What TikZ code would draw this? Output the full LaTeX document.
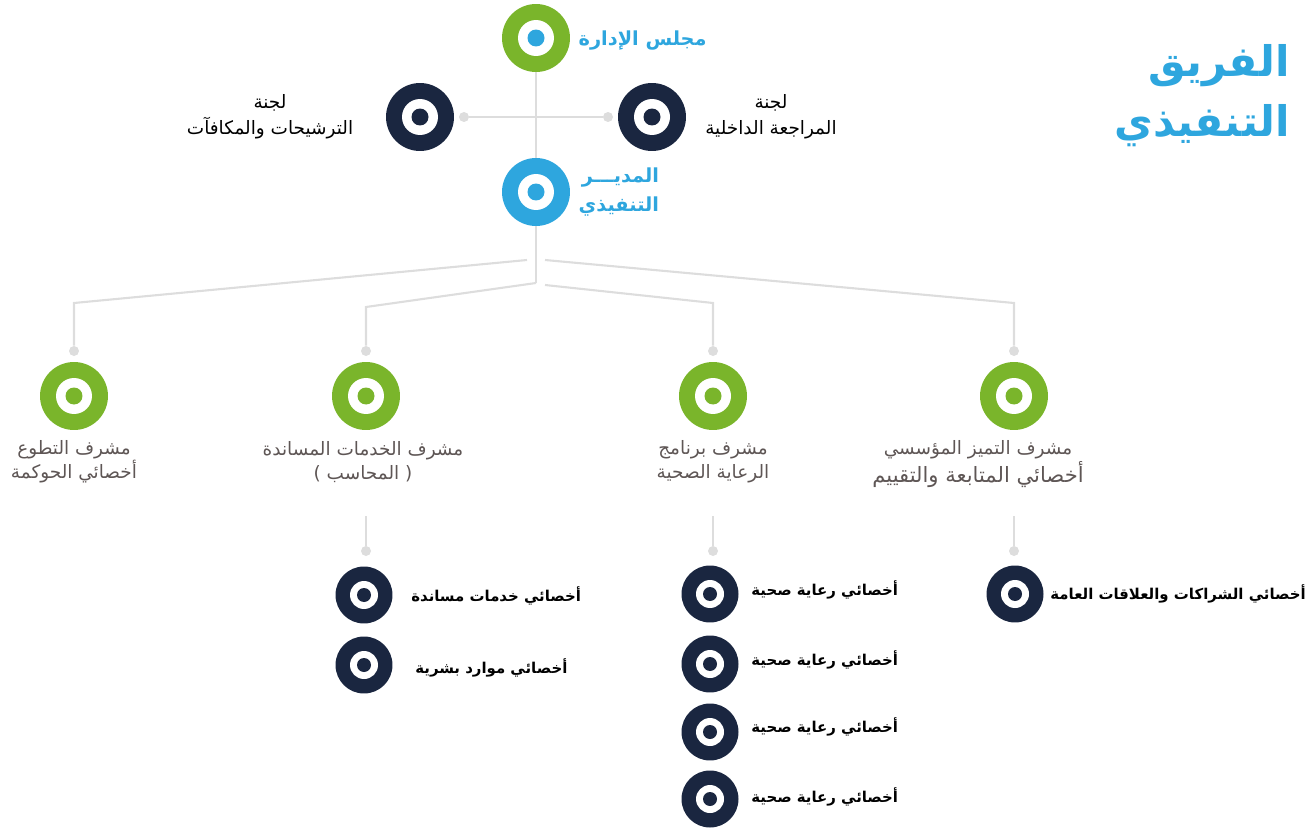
\documentclass[tikz,border=0pt]{standalone}
\usepackage{fontspec}
\usepackage{xcolor}
\usetikzlibrary{positioning}
\TeXXeTstate=1
\newfontfamily\arabicfont[Script=Arabic]{DejaVu Sans}
\newcommand{\rtl}[1]{\beginR #1\endR}

\definecolor{brandgreen}{HTML}{7AB52B}
\definecolor{brandblue}{HTML}{2EA6DE}
\definecolor{navy}{HTML}{1A2640}
\definecolor{linegray}{HTML}{DDDDDD}
\definecolor{textgray}{HTML}{5E5655}

\tikzset{
  ring/.style 2 args={circle, fill=#1, minimum size=1.36cm, inner sep=0pt,
    path picture={\fill[white] (path picture bounding box.center) circle (0.36cm);
      \fill[#2] (path picture bounding box.center) circle (0.17cm);}},
  smallring/.style={circle, fill=navy, minimum size=1.14cm, inner sep=0pt,
    path picture={\fill[white] (path picture bounding box.center) circle (0.28cm);
      \fill[navy] (path picture bounding box.center) circle (0.14cm);}},
}
\tikzstyle{joint} = [circle, fill=linegray, minimum size=0.2cm, inner sep=0pt]
\tikzstyle{wire} = [draw=linegray, line width=1.2pt]
\tikzstyle{titletext} = [text=brandblue, font=\arabicfont\bfseries\fontsize{24}{34}\selectfont, align=right, inner sep=0pt]
\tikzstyle{bluetext} = [text=brandblue, font=\arabicfont\bfseries\fontsize{11}{16}\selectfont, align=right, inner sep=0pt]
\tikzstyle{blacktext} = [text=black, font=\arabicfont\fontsize{10.5}{15}\selectfont, align=center, inner sep=0pt]
\tikzstyle{graytext} = [text=textgray, font=\arabicfont\fontsize{10.5}{13.5}\selectfont, align=center, inner sep=0pt]
\tikzstyle{roletext} = [text=black, font=\arabicfont\bfseries\fontsize{8.5}{10}\selectfont, anchor=west, inner sep=0pt]

\begin{document}
\begin{tikzpicture}[x=0.02cm, y=-0.02cm]
\useasboundingbox (0,0) rectangle (1309,828);

% top: board, committees, director
\node[ring={brandgreen}{brandblue}] (board) at (536,38) {};
\node[ring={brandblue}{brandblue}] (director) at (536,192) {};
\node[ring={navy}{navy}] (auditcom) at (652,117) {};
\node[ring={navy}{navy}] (rewardcom) at (420,117) {};
\node[joint] (auditjoint) at (608,117) {};
\node[joint] (rewardjoint) at (464,117) {};

\node[bluetext, right=0.16cm of board, yshift=-0.05cm] (boardlabel) {\rtl{مجلس الإدارة}};
\node[bluetext, right=0.16cm of director] (directorlabel) {\rtl{المديـــر}\\\rtl{التنفيذي}};
\node[blacktext] (auditlabel) at (771,117) {\rtl{لجنة}\\\rtl{المراجعة الداخلية}};
\node[blacktext] (rewardlabel) at (270,117) {\rtl{لجنة}\\\rtl{الترشيحات والمكافآت}};
\node[titletext, anchor=north east] (teamtitle) at (1290,44) {\rtl{الفريق}\\\rtl{التنفيذي}};

\draw[wire] (board) -- (director);
\draw[wire] (rewardjoint) -- (auditjoint);

% supervisors
\node[ring={brandgreen}{brandgreen}] (volunteer) at (74,396) {};
\node[ring={brandgreen}{brandgreen}] (support) at (366,396) {};
\node[ring={brandgreen}{brandgreen}] (health) at (713,396) {};
\node[ring={brandgreen}{brandgreen}] (excellence) at (1014,396) {};
\node[joint] (volunteerjoint) at (74,351) {};
\node[joint] (supportjoint) at (366,351) {};
\node[joint] (healthjoint) at (713,351) {};
\node[joint] (excellencejoint) at (1014,351) {};

\node[graytext] (volunteerlabel) at (74,462) {\rtl{مشرف التطوع}\\\rtl{أخصائي الحوكمة}};
\node[graytext] (supportlabel) at (363,462) {\rtl{مشرف الخدمات المساندة}\\\rtl{( المحاسب )}};
\node[graytext] (healthlabel) at (713,462) {\rtl{مشرف برنامج}\\\rtl{الرعاية الصحية}};
\node[graytext] (excellencelabel) at (978,464) {\rtl{مشرف التميز المؤسسي}\\\fontsize{12}{15}\selectfont\rtl{أخصائي المتابعة والتقييم}};

\coordinate (hub) at (536,283);
\coordinate (startA) at (527,260);
\coordinate (bendA) at (74,303);
\coordinate (bendB) at (366,307);
\coordinate (startC) at (545,285);
\coordinate (bendC) at (713,303);
\coordinate (startD) at (545,260);
\coordinate (bendD) at (1014,303);

\draw[wire] (director) -- (hub);
\draw[wire] (startA) -- (bendA) -- (volunteerjoint);
\draw[wire] (hub) -- (bendB) -- (supportjoint);
\draw[wire] (startC) -- (bendC) -- (healthjoint);
\draw[wire] (startD) -- (bendD) -- (excellencejoint);

% specialists
\coordinate (supporttail) at (366,516);
\coordinate (healthtail) at (713,516);
\coordinate (excellencetail) at (1014,516);
\node[joint] (supportjoint2) at (366,551) {};
\node[joint] (healthjoint2) at (713,551) {};
\node[joint] (excellencejoint2) at (1014,551) {};
\draw[wire] (supporttail) -- (supportjoint2);
\draw[wire] (healthtail) -- (healthjoint2);
\draw[wire] (excellencetail) -- (excellencejoint2);

\node[smallring] (supportrole1) at (364,595) {};
\node[smallring] (supportrole2) at (364,665) {};
\node[roletext] at (411,596) {\rtl{أخصائي خدمات مساندة}};
\node[roletext] at (415,668) {\rtl{أخصائي موارد بشرية}};

\node[smallring] (healthrole1) at (710,594) {};
\node[smallring] (healthrole2) at (710,664) {};
\node[smallring] (healthrole3) at (710,732) {};
\node[smallring] (healthrole4) at (710,799) {};
\node[roletext] at (751,590) {\rtl{أخصائي رعاية صحية}};
\node[roletext] at (751,660) {\rtl{أخصائي رعاية صحية}};
\node[roletext] at (751,727) {\rtl{أخصائي رعاية صحية}};
\node[roletext] at (751,797) {\rtl{أخصائي رعاية صحية}};

\node[smallring] (excellencerole1) at (1015,594) {};
\node[roletext] at (1050,594) {\rtl{أخصائي الشراكات والعلاقات العامة}};
\end{tikzpicture}
\end{document}
